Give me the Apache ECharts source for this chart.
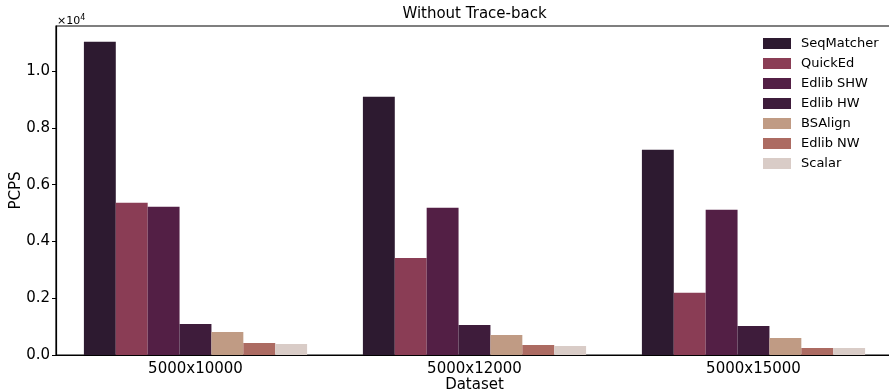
<!DOCTYPE html>
<html>
<head>
<meta charset="utf-8">
<script src="https://cdn.jsdelivr.net/npm/echarts@6/dist/echarts.min.js"></script>
<style>
  html, body { margin: 0; padding: 0; background: #fff; }
  #chart { width: 889px; height: 392px; }
</style>
</head>
<body>
<div id="chart"></div>
<script>
// Datasets on the x axis
const categories = ['5000x10000', '5000x12000', '5000x15000'];

// PCPS per aligner, one value per dataset
const seqMatcher = [11040, 9100, 7230];
const quickEd    = [5360, 3420, 2190];
const edlibSHW   = [5220, 5185, 5115];
const edlibHW    = [1093, 1058, 1023];
const bsAlign    = [811, 705, 600];
const edlibNW    = [423, 353, 250];
const scalar     = [388, 318, 250];

const seriesNames = ['SeqMatcher', 'QuickEd', 'Edlib SHW', 'Edlib HW', 'BSAlign', 'Edlib NW', 'Scalar'];
const seriesValues = [seqMatcher, quickEd, edlibSHW, edlibHW, bsAlign, edlibNW, scalar];
const seriesColors = ['#2d1a30', '#8a3d55', '#531f45', '#3e1c3b', '#c09b84', '#ac6b62', '#d9ccc7'];

// y ticks, shown in units of 1e4
const yTicks = [0, 2000, 4000, 6000, 8000, 10000];
const yMax = 11592;

const FONT = 'DejaVu Sans';

const chart = echarts.init(document.getElementById('chart'), null, { renderer: 'canvas' });

chart.setOption({
  animation: false,
  textStyle: { fontFamily: FONT },
  title: {
    text: 'Without Trace-back',
    left: 474.5,
    textAlign: 'center',
    top: 7,
    padding: 0,
    textStyle: { fontFamily: FONT, fontSize: 15, fontWeight: 'normal', color: '#000' }
  },
  grid: {
    left: 56, right: -4, top: 26, bottom: 37,
    outerBoundsMode: 'none',
    containLabel: false,
    show: true, borderColor: '#000', borderWidth: 1.2, backgroundColor: 'transparent'
  },
  legend: {
    orient: 'vertical',
    left: 763,
    top: 37,
    padding: 0,
    itemWidth: 28,
    itemHeight: 11,
    itemGap: 7,
    icon: 'rect',
    textStyle: { fontFamily: FONT, fontSize: 13, color: '#000', padding: [0, 0, 0, 5], lineHeight: 13 },
    data: seriesNames
  },
  xAxis: {
    type: 'category',
    data: categories,
    name: 'Dataset',
    nameLocation: 'middle',
    nameGap: 23,
    nameMoveOverlap: false,
    nameTextStyle: { fontFamily: FONT, fontSize: 15, color: '#000' },
    axisLine: { lineStyle: { color: '#000', width: 1.2 } },
    axisTick: { alignWithLabel: true, length: 4, lineStyle: { color: '#000' } },
    axisLabel: { fontFamily: FONT, fontSize: 15, color: '#000', margin: 7 }
  },
  yAxis: {
    type: 'value',
    min: 0,
    max: yMax,
    interval: 2000,
    name: 'PCPS',
    nameLocation: 'middle',
    nameGap: 32,
    nameMoveOverlap: false,
    nameTextStyle: { fontFamily: FONT, fontSize: 15, color: '#000' },
    splitLine: { show: false },
    axisLine: { show: true, lineStyle: { color: '#000', width: 1.2 } },
    axisTick: { show: true, length: 4, customValues: yTicks, lineStyle: { color: '#000' } },
    axisLabel: {
      fontFamily: FONT, fontSize: 15, color: '#000', margin: 6,
      customValues: yTicks,
      formatter: v => (v / 10000).toFixed(1)
    }
  },
  graphic: [{
    type: 'text',
    left: 57,
    top: 14,
    style: {
      text: '{b|×10}{s|4}',
      rich: {
        b: { fontFamily: FONT, fontSize: 11, fill: '#000', verticalAlign: 'bottom' },
        s: { fontFamily: FONT, fontSize: 8, fill: '#000', verticalAlign: 'top', padding: [0, 0, 5, 0] }
      }
    }
  }],
  series: seriesNames.map((name, i) => ({
    name,
    type: 'bar',
    data: seriesValues[i],
    barGap: '0%',
    barCategoryGap: '20%',
    itemStyle: { color: seriesColors[i] },
    emphasis: { disabled: true }
  }))
});
</script>
</body>
</html>
